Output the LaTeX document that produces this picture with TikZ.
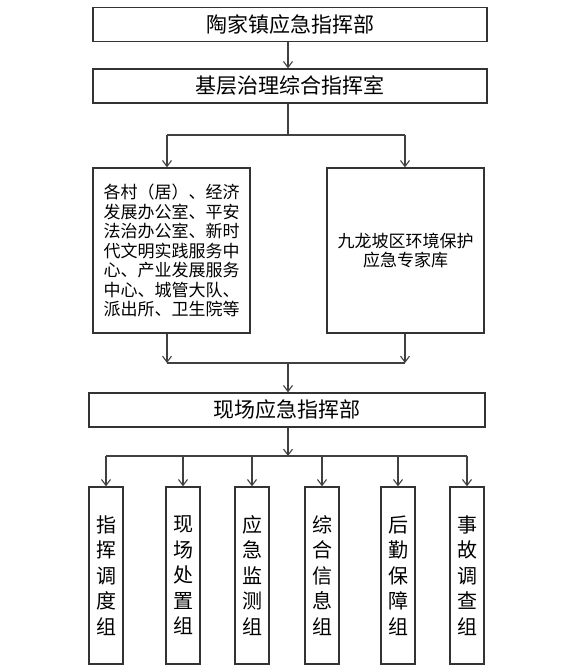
\documentclass[tikz,border=0pt]{standalone}
\usepackage{fontspec}
\newfontfamily\cjk{Noto Sans CJK SC}
\usetikzlibrary{arrows.meta}
\begin{document}
\begin{tikzpicture}[x=1pt,y=-1pt,
  box/.style={draw=black!80,line width=1.2pt,inner sep=0pt,font=\cjk\fontsize{21}{24}\selectfont},
  wide/.style={box,minimum width=394pt,minimum height=34pt},
  mid/.style={box,minimum width=157pt,minimum height=165pt,font=\cjk\fontsize{17}{19.5}\selectfont},
  grp/.style={box,minimum width=34pt,minimum height=177pt,align=center,font=\cjk\fontsize{20}{25.5}\selectfont},
  arr/.style={-{Straight Barb[length=6pt,width=9pt]}},
  ln/.style={draw=black!75,line width=1.1pt}]
\useasboundingbox (0,0) rectangle (579,671);
\node[wide] (b1) at (290,24.5) {陶家镇应急指挥部};
\node[wide] (b2) at (290,86) {基层治理综合指挥室};
\node[mid,align=left] (left) at (171.5,250.5) {各村（居）、经济\\发展办公室、平安\\法治办公室、新时\\代文明实践服务中\\心、产业发展服务\\中心、城管大队、\\派出所、卫生院等};
\node[mid,align=center] (right) at (405.5,250.5) {九龙坡区环境保护\\应急专家库};
\node[wide,minimum width=396pt] (b3) at (287,410) {现场应急指挥部};
\node[grp] (g1) at (106,575.5) {指\\挥\\调\\度\\组};
\node[grp] (g2) at (183,575.5) {现\\场\\处\\置\\组};
\node[grp] (g3) at (252,575.5) {应\\急\\监\\测\\组};
\node[grp] (g4) at (322,575.5) {综\\合\\信\\息\\组};
\node[grp] (g5) at (398,575.5) {后\\勤\\保\\障\\组};
\node[grp] (g6) at (467,575.5) {事\\故\\调\\查\\组};
\coordinate (j1) at (288,135);
\coordinate (j1l) at (167,135);
\coordinate (j1r) at (405,135);
\coordinate (j2) at (288,363);
\coordinate (j2l) at (167,363);
\coordinate (j2r) at (405,363);
\coordinate (j3) at (288,456);
\coordinate (j3l) at (106,456);
\coordinate (j3r) at (467,456);
\draw[ln,arr] (b1.south -| j1) -- (b2.north -| j1);
\draw[ln] (b2.south -| j1) -- (j1);
\draw[ln] (j1l) -- (j1r);
\draw[ln,arr] (j1l) -- (left.north -| j1l);
\draw[ln,arr] (j1r) -- (right.north -| j1r);
\draw[ln,arr] (left.south -| j2l) -- (j2l);
\draw[ln,arr] (right.south -| j2r) -- (j2r);
\draw[ln] (j2l) -- (j2r);
\draw[ln,arr] (j2) -- (b3.north -| j2);
\draw[ln,arr] (b3.south -| j3) -- (j3);
\draw[ln] (j3l) -- (j3r);
\foreach \g in {g1,g2,g3,g4,g5,g6}{
  \draw[ln,arr] (j3 -| \g) -- (\g.north);
}
\end{tikzpicture}
\end{document}
